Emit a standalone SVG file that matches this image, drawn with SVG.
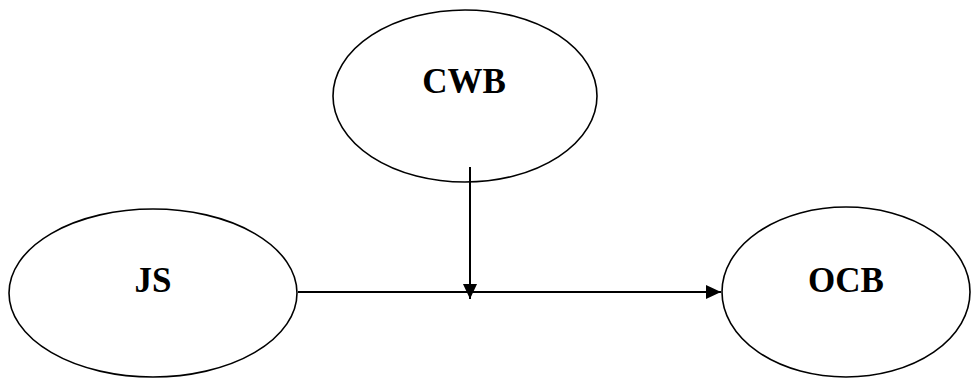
<svg xmlns="http://www.w3.org/2000/svg" width="971" height="378" viewBox="0 0 971 378">
<defs>
<style>
.node ellipse{fill:#fff;stroke:#000;stroke-width:1.6}
.node text{font-family:"Liberation Serif","Times New Roman",serif;font-weight:bold;font-size:35px;fill:#000;text-anchor:middle}
.conn line{stroke:#000;stroke-width:2}
</style>
<marker id="arr" viewBox="0 0 15 14" refX="15" refY="7" markerWidth="15" markerHeight="14" markerUnits="userSpaceOnUse" orient="auto">
<path d="M0,0 L15,7 L0,14 Z" fill="#000"/>
</marker>
</defs>
<rect width="971" height="378" fill="#fff"/>
<g id="CWB" class="node">
<ellipse cx="465" cy="96" rx="132" ry="86"/>
<text x="464" y="93">CWB</text>
</g>
<g id="JS" class="node">
<ellipse cx="153" cy="293" rx="144" ry="84"/>
<text x="153" y="292">JS</text>
</g>
<g id="OCB" class="node">
<ellipse cx="846" cy="292" rx="124" ry="85"/>
<text x="846" y="292">OCB</text>
</g>
<g id="connectors" class="conn">
<line x1="298" y1="292" x2="721" y2="292" marker-end="url(#arr)"/>
<line x1="470" y1="167" x2="470" y2="299" marker-end="url(#arr)"/>
</g>
</svg>
